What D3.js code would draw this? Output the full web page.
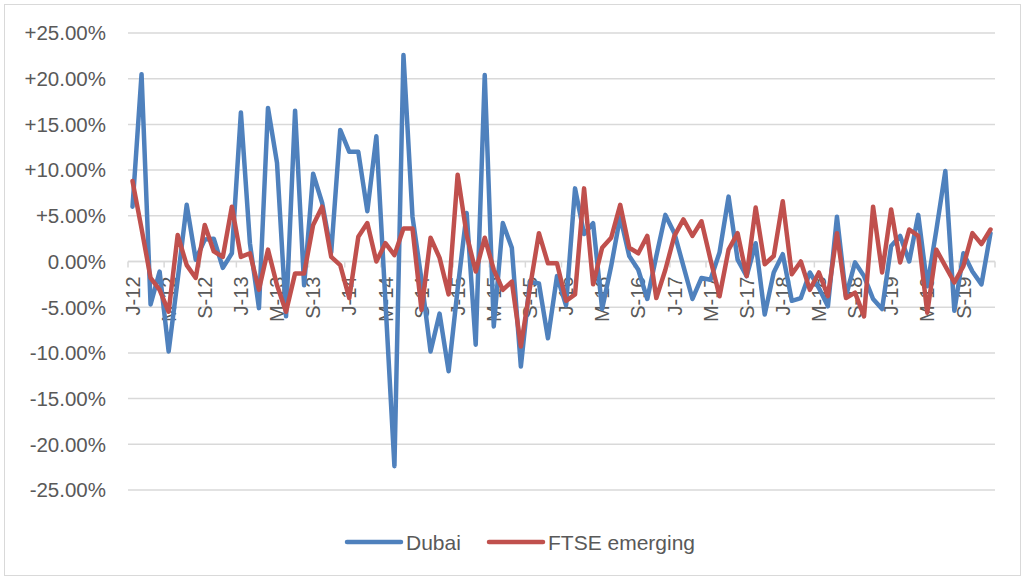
<!DOCTYPE html>
<html>
<head>
<meta charset="utf-8">
<script src="https://cdn.jsdelivr.net/npm/d3@7"></script>
<style>
  html, body { margin: 0; padding: 0; background: #fff; }
  svg text { font-family: "Liberation Sans", Arial, sans-serif; fill: #595959; }
</style>
</head>
<body>
<div id="chart"></div>
<script>
// Monthly returns (%), Jan 2012 .. Dec 2019
const dubai = [
  6.0, 20.5, -4.7, -1.1, -9.85, -2.0, 6.2, 0.2, 2.4, 2.5, -0.7, 0.9,
  16.3, 2.0, -5.1, 16.8, 10.8, -6.0, 16.5, -2.6, 9.6, 6.4, 1.0, 14.4,
  12.0, 12.0, 5.5, 13.7, -4.3, -22.4, 22.6, 4.9, -2.0, -9.85, -5.7, -12.0,
  -3.0, 5.3, -9.1, 20.4, -7.1, 4.2, 1.5, -11.5, -2.2, -2.4, -8.4, -1.6,
  -4.8, 8.0, 3.0, 4.2, -5.2, -0.5, 4.9, 0.6, -0.9, -4.1, 0.6, 5.1,
  3.1, -0.5, -4.1, -1.8, -2.0, 1.0, 7.1, 0.2, -1.6, 2.0, -5.8, -1.2,
  0.8, -4.3, -4.0, -1.2, -2.9, -4.9, 4.9, -3.8, -0.1, -1.6, -4.1, -5.2,
  1.7, 2.8, 0.0, 5.1, -2.7, 3.4, 9.9, -5.4, 0.9, -1.1, -2.5, 3.1
];
const ftse = [
  8.8, 3.6, -1.8, -3.1, -5.5, 2.9, -0.4, -1.8, 4.0, 1.1, 0.5, 6.0,
  0.5, 0.9, -3.1, 1.3, -2.6, -5.5, -1.3, -1.3, 4.0, 6.0, 0.5, -0.4,
  -4.0, 2.7, 4.2, 0.0, 2.0, 0.7, 3.6, 3.6, -5.3, 2.6, 0.4, -3.6,
  9.5, 2.9, -1.1, 2.6, -0.9, -3.1, -2.2, -9.3, -2.9, 3.1, -0.2, -0.2,
  -4.3, -3.6, 8.0, -2.5, 1.5, 2.6, 6.2, 1.5, 0.9, 2.8, -4.0, -0.9,
  2.8, 4.6, 2.8, 4.4, 0.2, -3.8, 1.3, 3.1, -1.6, 5.9, -0.3, 0.6,
  6.6, -1.4, 0.0, -3.1, -1.2, -3.8, 3.1, -4.0, -3.4, -6.0, 6.0, -1.2,
  5.7, -0.1, 3.5, 2.8, -5.6, 1.3, -0.5, -2.3, -0.5, 3.1, 1.9, 3.5
];
// one label every 4 months
const tickLabels = [
  'J-12', 'M-12', 'S-12', 'J-13', 'M-13', 'S-13', 'J-14', 'M-14',
  'S-14', 'J-15', 'M-15', 'S-15', 'J-16', 'M-16', 'S-16', 'J-17',
  'M-17', 'S-17', 'J-18', 'M-18', 'S-18', 'J-19', 'M-19', 'S-19'
];
const yTicks = [25, 20, 15, 10, 5, 0, -5, -10, -15, -20, -25];
const yTickLabels = ['+25.00%', '+20.00%', '+15.00%', '+10.00%', '+5.00%', '0.00%',
  '-5.00%', '-10.00%', '-15.00%', '-20.00%', '-25.00%'];

const series = [
  { name: 'Dubai', values: dubai, color: '#4F81BD' },
  { name: 'FTSE emerging', values: ftse, color: '#C0504D' }
];

const width = 1025, height = 579;
const plot = { left: 128, right: 995, top: 33, bottom: 490 };

const svg = d3.select('#chart').append('svg')
  .attr('width', width).attr('height', height);

// chart border
svg.append('rect')
  .attr('x', 4.5).attr('y', 4.5)
  .attr('width', 1016).attr('height', 571)
  .attr('fill', '#fff').attr('stroke', '#d9d9d9');

const months = d3.range(dubai.length);
const x = d3.scaleBand().domain(months).range([plot.left, plot.right]).padding(0);
const y = d3.scaleLinear().domain([-25, 25]).range([plot.bottom, plot.top]);
const cx = i => x(i) + x.bandwidth() / 2;

// gridlines
svg.append('g').selectAll('line')
  .data(yTicks).enter().append('line')
  .attr('x1', plot.left).attr('x2', plot.right)
  .attr('y1', d => y(d)).attr('y2', d => y(d))
  .attr('stroke', '#d9d9d9').attr('stroke-width', 1.5);

// y labels
svg.append('g').selectAll('text')
  .data(yTicks).enter().append('text')
  .attr('x', 106).attr('y', d => y(d))
  .attr('dy', '0.36em')
  .attr('text-anchor', 'end')
  .attr('font-size', '20.5px')
  .text((d, i) => yTickLabels[i]);

// category axis crossing at zero, ticks every 4 months
const y0 = y(0);
svg.append('line')
  .attr('x1', plot.left).attr('x2', plot.right)
  .attr('y1', y0).attr('y2', y0)
  .attr('stroke', '#d9d9d9').attr('stroke-width', 1.5);
const tickIdx = d3.range(0, months.length + 1, 4);
svg.append('g').selectAll('line')
  .data(tickIdx).enter().append('line')
  .attr('x1', d => d < months.length ? x(d) : plot.right)
  .attr('x2', d => d < months.length ? x(d) : plot.right)
  .attr('y1', y0).attr('y2', y0 + 6)
  .attr('stroke', '#d9d9d9').attr('stroke-width', 1.5);

// rotated month labels (lines run over them, as in the source)
svg.append('g').selectAll('text')
  .data(tickLabels).enter().append('text')
  .attr('transform', (d, i) => `translate(${cx(i * 4)},${y0 + 15}) rotate(-90)`)
  .attr('dy', '0.36em')
  .attr('text-anchor', 'end')
  .attr('font-size', '20px')
  .text(d => d);

// lines
const line = d3.line().x((d, i) => cx(i)).y(d => y(d));
svg.append('g').selectAll('path')
  .data(series).enter().append('path')
  .attr('d', d => line(d.values))
  .attr('fill', 'none')
  .attr('stroke', d => d.color)
  .attr('stroke-width', 4.5)
  .attr('stroke-linejoin', 'round')
  .attr('stroke-linecap', 'round');

// legend
const legend = svg.append('g');
const legendX = [347, 489];
series.forEach((s, i) => {
  const g = legend.append('g').attr('transform', `translate(${legendX[i]},542)`);
  g.append('line')
    .attr('x1', 0).attr('x2', 54).attr('y1', 0).attr('y2', 0)
    .attr('stroke', s.color).attr('stroke-width', 4.5)
    .attr('stroke-linecap', 'round');
  g.append('text')
    .attr('x', 59).attr('dy', '0.36em')
    .attr('font-size', '21px')
    .text(s.name);
});
</script>
</body>
</html>
